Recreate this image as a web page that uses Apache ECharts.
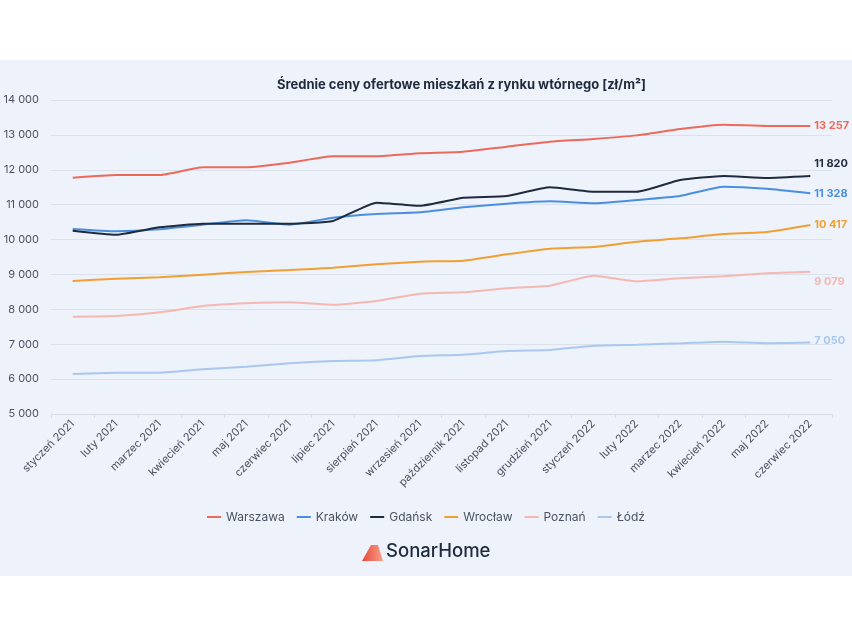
<!DOCTYPE html>
<html><head><meta charset="utf-8">
<script src="https://cdn.jsdelivr.net/npm/echarts@6/dist/echarts.min.js"></script>
<style>html,body{margin:0;padding:0;background:#fff}#c{width:852px;height:639px}</style>
</head><body><div id="c"></div>
<script>
const categories = ['styczeń 2021','luty 2021','marzec 2021','kwiecień 2021','maj 2021','czerwiec 2021','lipiec 2021','sierpień 2021','wrzesień 2021','październik 2021','listopad 2021','grudzień 2021','styczeń 2022','luty 2022','marzec 2022','kwiecień 2022','maj 2022','czerwiec 2022'];
const warszawa = [11773,11850,11850,12071,12071,12204,12386,12386,12472,12518,12661,12805,12882,12986,13169,13293,13255,13257];
const krakow   = [10302,10236,10293,10427,10551,10427,10627,10733,10780,10925,11029,11097,11038,11134,11248,11516,11458,11328];
const gdansk   = [10254,10140,10350,10455,10455,10455,10532,11058,10970,11200,11248,11497,11372,11372,11707,11822,11764,11820];
const wroclaw  = [8812,8878,8918,8993,9070,9127,9194,9290,9366,9395,9577,9738,9787,9939,10035,10159,10216,10417];
const poznan   = [7789,7809,7915,8096,8172,8201,8133,8239,8450,8488,8602,8678,8964,8803,8889,8946,9032,9079];
const lodz     = [6146,6184,6184,6280,6356,6452,6519,6538,6662,6700,6806,6834,6958,6986,7026,7073,7026,7050];
const yTicks = [5000,6000,7000,8000,9000,10000,11000,12000,13000,14000];

const fmt = v => String(v).replace(/\B(?=(\d{3})+(?!\d))/g, ' ');
const FONT = 'Inter, "Noto Sans", sans-serif';

function mk(name, data, color, offY) {
  return { name, type: 'line', data: data, smooth: 0.15, symbol: 'none', showSymbol: false,
    lineStyle: { width: 2, color }, itemStyle: { color }, z: 3,
    endLabel: { show: true, distance: 4, offset: [0, offY],
      formatter: p => fmt(p.value), color: color, fontWeight: 'bold', fontSize: 11, fontFamily: FONT } };
}

const chart = echarts.init(document.getElementById('c'), null, { renderer: 'canvas' });
chart.setOption({
  backgroundColor: '#ffffff',
  animation: false,
  textStyle: { fontFamily: FONT },
  graphic: [
    { type: 'rect', z: -10, silent: true, shape: { x: 0, y: 60, width: 852, height: 516 }, style: { fill: '#eef2fa' } },
    { type: 'polygon', z: 10, shape: { points: [[362, 561], [371, 545], [378, 545], [383, 561]] },
      style: { fill: new echarts.graphic.LinearGradient(0, 0, 1, 0, [{ offset: 0, color: '#e8473a' }, { offset: 1, color: '#f6a08a' }]) } },
    { type: 'text', z: 10, left: 386, top: 542, style: { text: 'SonarHome', fill: '#1f2a3c', font: '500 18.5px ' + FONT } }
  ],
  title: {
    text: 'Średnie ceny ofertowe mieszkań z rynku wtórnego [zł/m²]',
    left: 272, top: 74,
    textStyle: { fontSize: 13, fontWeight: 'bold', color: '#1f2a3c', fontFamily: FONT }
  },
  legend: {
    bottom: 111, left: 'center', itemWidth: 14, itemHeight: 2, itemGap: 12, icon: 'rect',
    textStyle: { fontSize: 12, color: '#4a5261', fontFamily: FONT }
  },
  grid: { left: 51, right: 20, top: 100, bottom: 225, containLabel: false },
  xAxis: {
    type: 'category', data: categories, boundaryGap: true,
    axisLine: { lineStyle: { color: '#d6dce6' } },
    axisTick: { show: true, length: 4, lineStyle: { color: '#d6dce6' } },
    axisLabel: { rotate: 45, fontSize: 11, color: '#4a5261', margin: 8, interval: 0, fontFamily: FONT }
  },
  yAxis: {
    type: 'value', min: 5000, max: 14000, interval: 1000,
    axisLine: { show: false }, axisTick: { show: false },
    splitLine: { lineStyle: { color: '#dbe1ea' } },
    axisLabel: { fontSize: 11, color: '#4a5261', margin: 12, formatter: v => fmt(v), fontFamily: FONT }
  },
  series: [
    mk('Warszawa', warszawa, '#ec6a5c', 0),
    mk('Kraków', krakow, '#4a8fdf', 0),
    mk('Gdańsk', gdansk, '#1f2a3c', -12),
    mk('Wrocław', wroclaw, '#f0a032', 0),
    mk('Poznań', poznan, '#f5b8b1', 10),
    mk('Łódź', lodz, '#a9c8ef', -2)
  ]
});
</script></body></html>
